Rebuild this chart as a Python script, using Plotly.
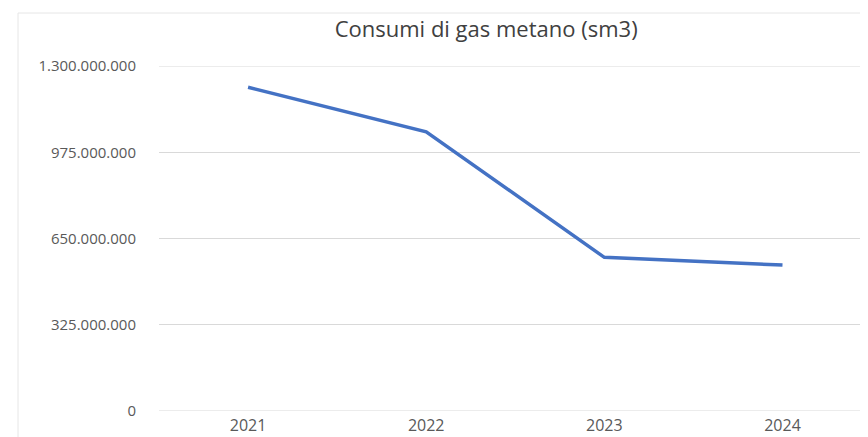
import plotly.graph_objects as go

years = ["2021", "2022", "2023", "2024"]
consumi = [1220000000, 1052000000, 579000000, 550000000]
y_ticks = [0, 325000000, 650000000, 975000000, 1300000000]

W, H = 860, 429          # page body has an 8px margin
L, T, B = 151, 58, 26
pw, ph = W - L, H - T - B

fig = go.Figure()

# gridlines at both ends of the value axis (plotly drops them at the range edges)
for v in (y_ticks[0], y_ticks[-1]):
    fig.add_shape(type="line", xref="paper", yref="y", x0=0, x1=1, y0=v, y1=v,
                  line=dict(color="#D9D9D9", width=1), layer="below")

fig.add_trace(go.Scatter(
    x=years, y=consumi, mode="lines",
    line=dict(color="#4472C4", width=3.5),
    hoverinfo="skip", cliponaxis=False,
))

# faint chart-area frame (top and left edges)
frame_x = (10 - L) / pw
frame_y = 1 + (T - 5) / ph
fig.add_shape(type="line", xref="paper", yref="paper",
              x0=frame_x, x1=1.1, y0=frame_y, y1=frame_y,
              line=dict(color="#E6E6E6", width=1))
fig.add_shape(type="line", xref="paper", yref="paper",
              x0=frame_x, x1=frame_x, y0=-B / ph, y1=frame_y,
              line=dict(color="#E6E6E6", width=1))

fig.update_layout(
    width=W, height=H,
    margin=dict(l=L, r=0, t=T, b=B),
    paper_bgcolor="white", plot_bgcolor="white",
    separators=",.",
    showlegend=False,
    title=dict(text="Consumi di gas metano (sm3)", x=0.556, xref="container",
               xanchor="center", y=0.95, yanchor="middle", yref="container",
               font=dict(family="Open Sans", size=22, color="#404040")),
    font=dict(family="Open Sans", color="#595959"),
)
fig.update_xaxes(
    type="category", range=[-0.5, 3.48], showgrid=False, zeroline=False,
    showline=False, ticks="", automargin=False,
    tickfont=dict(size=16, color="#595959"),
    ticklabelstandoff=3,
)
fig.update_yaxes(
    range=[0, 1300000000], tickvals=y_ticks, tickformat=",d",
    showgrid=True, gridcolor="#D9D9D9", gridwidth=1,
    zeroline=False, showline=False, ticks="", automargin=False,
    tickfont=dict(size=15, color="#595959"),
    ticklabelstandoff=22,
)

fig.write_html("out.html")
